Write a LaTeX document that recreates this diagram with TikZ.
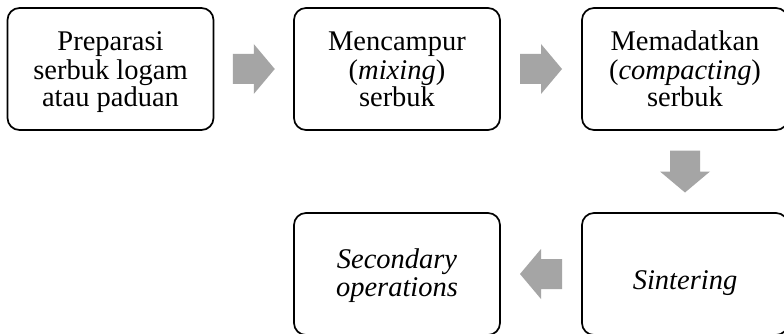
\documentclass[tikz,border=0pt]{standalone}
\usepackage{fontspec}
\setmainfont{Liberation Serif}
\usetikzlibrary{calc}
\definecolor{arrowgray}{HTML}{A5A5A5}
\newcommand\lnstrut{\rule[-8pt]{0pt}{28pt}}
\tikzset{
  stepbox/.style={draw=black, line width=1.7pt, rounded corners=12pt, fill=white,
    minimum width=206pt, minimum height=122pt, inner sep=0pt},
  txt/.style={align=center, inner sep=0pt, font=\fontsize{28.5}{28}\selectfont},
  blockarrow/.style={fill=arrowgray, draw=none}
}
\newcommand\blkarrow[2]{%
  \fill[blockarrow, shift={(#1)}, rotate=#2]
    (-21,-15) -- (0,-15) -- (0,-25) -- (21,0) -- (0,25) -- (0,15) -- (-21,15) -- cycle;}
\begin{document}
\begin{tikzpicture}[x=1pt, y=-1pt]
\useasboundingbox (0,0) rectangle (784,334);
\clip (0,0) rectangle (784,334);
\fill[white] (0,0) rectangle (784,334);
% boxes
\node[stepbox] (b1) at (110.5,69) {};
\node[stepbox] (b2) at (397,69) {};
\node[stepbox] (b3) at (685,69) {};
\node[stepbox] (b4) at (685,274) {};
\node[stepbox] (b5) at (397,274) {};
% texts
\node[txt] (t1) at ([yshift=-4pt]b1.center) {\lnstrut Preparasi\\\lnstrut serbuk logam\\\lnstrut atau paduan};
\node[txt] (t2) at ([yshift=-4pt]b2.center) {\lnstrut Mencampur\\\lnstrut (\textit{mixing})\\\lnstrut serbuk};
\node[txt] (t3) at ([yshift=-4pt]b3.center) {\lnstrut Memadatkan\\\lnstrut (\textit{compacting})\\\lnstrut serbuk};
\node[txt] (t4) at ([yshift=-9pt]b4.center) {\lnstrut\textit{Sintering}};
\node[txt] (t5) at ([yshift=-2pt]b5.center) {\lnstrut\textit{Secondary}\\\lnstrut\textit{operations}};
% connectors (block arrows)
\coordinate (m12) at ($(b1.east)!0.5!(b2.west)$);
\coordinate (m23) at ($(b2.east)!0.5!(b3.west)$);
\coordinate (m34) at ($(b3.south)!0.5!(b4.north)$);
\coordinate (m45) at ($(b4.west)!0.5!(b5.east)$);
\blkarrow{m12}{0}
\blkarrow{m23}{0}
\blkarrow{m34}{-90}
\blkarrow{m45}{180}
\end{tikzpicture}
\end{document}
